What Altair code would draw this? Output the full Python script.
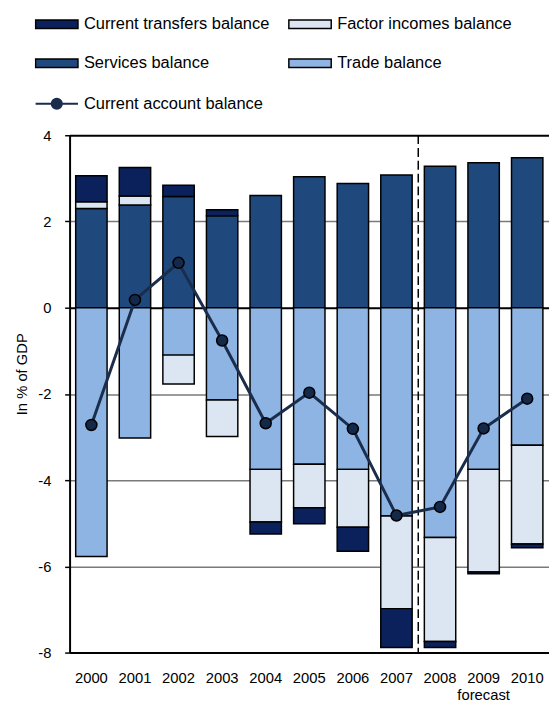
import altair as alt
import pandas as pd

years = ["2000", "2001", "2002", "2003", "2004", "2005", "2006", "2007", "2008", "2009", "2010"]
services = [2.30, 2.38, 2.58, 2.13, 2.60, 3.04, 2.88, 3.08, 3.28, 3.36, 3.48]
trade = [-5.77, -3.02, -1.10, -2.14, -3.75, -3.63, -3.75, -4.83, -5.33, -3.75, -3.19]
factor = [0.16, 0.21, -0.67, -0.85, -1.22, -1.01, -1.34, -2.15, -2.41, -2.38, -2.29]
transfers = [0.60, 0.66, 0.26, 0.14, -0.28, -0.37, -0.56, -0.90, -0.14, -0.04, -0.09]
current_account = [-2.72, 0.18, 1.04, -0.76, -2.68, -1.97, -2.81, -4.82, -4.62, -2.80, -2.11]

# legend fills column by column: col 1 = transfers, services; col 2 = factor, trade
series_names = ["Current transfers balance", "Services balance", "Factor incomes balance", "Trade balance"]
series_colors = ["#0b215c", "#1f497d", "#dce6f2", "#8db4e2"]
stack_order = {"Services balance": 0, "Trade balance": 0, "Factor incomes balance": 1, "Current transfers balance": 2}

rows = []
for name, vals in [("Services balance", services), ("Trade balance", trade),
                   ("Factor incomes balance", factor), ("Current transfers balance", transfers)]:
    for y, v in zip(years, vals):
        rows.append({"year": y, "series": name, "value": v, "ord": stack_order[name]})
bars_df = pd.DataFrame(rows)
ca_df = pd.DataFrame({"year": years, "value": current_account, "series": "Current account balance"})
forecast_df = pd.DataFrame({"year": ["2008"]})

FONT = "Liberation Sans"

x_scale = alt.Scale(domain=years, paddingInner=0, paddingOuter=0)
y_scale = alt.Scale(domain=[-8, 4], nice=False)

x_axis = alt.Axis(title=None, labelAngle=0, labelFontSize=15, labelFont=FONT, labelColor="black",
                  ticks=False, tickSize=0, labelPadding=18, domainColor="black", domainWidth=2,
                  labelBaseline="top", labelLineHeight=18,
                  labelExpr="datum.value == '2009' ? ['2009', 'forecast'] : datum.value")
y_axis = alt.Axis(title="In % of GDP", values=[-8, -6, -4, -2, 0, 2, 4], labelFontSize=15, labelFont=FONT,
                  labelExpr="'' + datum.value",
                  labelColor="black", tickColor="black", tickSize=5, tickWidth=1.5, labelPadding=14,
                  domainColor="black", domainWidth=2,
                  gridColor={"condition": {"test": "datum.value == 0 || datum.value == 4", "value": "black"},
                             "value": "#7a7a7a"},
                  gridWidth={"condition": {"test": "datum.value == 0 || datum.value == 4", "value": 2},
                             "value": 1.5},
                  titleFont=FONT, titleFontSize=15, titleFontWeight="normal", titleColor="black",
                  titleAngle=270, titleX=-48.5, titleY=242, titleAlign="center", titleBaseline="middle")

bars = alt.Chart(bars_df).mark_bar(width=alt.RelativeBandSize(0.72), stroke="black", strokeWidth=1.5).encode(
    x=alt.X("year:N", scale=x_scale, axis=x_axis, sort=years),
    y=alt.Y("value:Q", scale=y_scale, axis=y_axis, stack="zero"),
    fill=alt.Fill("series:N", scale=alt.Scale(domain=series_names, range=series_colors),
                  legend=alt.Legend(title=None, orient="none", legendX=-35.5, legendY=-121.5, columns=2,
                                    symbolType="M-1,-0.2H1V0.2H-1Z", symbolSize=1849,
                                    symbolStrokeColor="black", symbolStrokeWidth=1.5,
                                    clipHeight=17, rowPadding=22, columnPadding=18, labelOffset=5,
                                    labelFontSize=16.7, labelFont=FONT, labelColor="black",
                                    labelLimit=400, padding=0)),
    order=alt.Order("ord:Q", sort="ascending"),
)

divider = alt.Chart(forecast_df).mark_rule(color="black", strokeWidth=1.5, strokeDash=[9, 4]).encode(
    x=alt.X("year:N", scale=x_scale, sort=years, bandPosition=0),
    y=alt.Y(datum=4),
    y2=alt.Y2(datum=-8),
)

line = alt.Chart(ca_df).mark_line(strokeWidth=3).encode(
    x=alt.X("year:N", scale=x_scale, sort=years),
    y=alt.Y("value:Q", scale=y_scale),
    stroke=alt.Stroke("series:N", scale=alt.Scale(domain=["Current account balance"], range=["#1a2d4c"]),
                      legend=alt.Legend(title=None, orient="none", legendX=-35.5, legendY=-40.5,
                                        symbolType="M-1,0H1M-0.24,0A0.24,0.24,0,1,1,0.24,0A0.24,0.24,0,1,1,-0.24,0Z",
                                        symbolSize=1849, symbolStrokeWidth=2, symbolFillColor="#1a2d4c",
                                        clipHeight=17, labelOffset=5, labelFontSize=16.7, labelFont=FONT,
                                        labelColor="black", labelLimit=400, padding=0)),
)

points = alt.Chart(ca_df).mark_point(filled=True, size=125, fill="#14284a", stroke="black",
                                      strokeWidth=1.5, opacity=1).encode(
    x=alt.X("year:N", scale=x_scale, sort=years),
    y=alt.Y("value:Q", scale=y_scale),
)

chart = alt.layer(bars, divider, line, points).properties(
    width=486.5, height=525,
    autosize=alt.AutoSizeParams(type="none"),
    padding={"left": 62.5, "top": 124, "right": 0, "bottom": 45},
    background="white",
).configure_view(stroke=None)

chart.save("out.html", embed_options={"renderer": "svg", "actions": False})
